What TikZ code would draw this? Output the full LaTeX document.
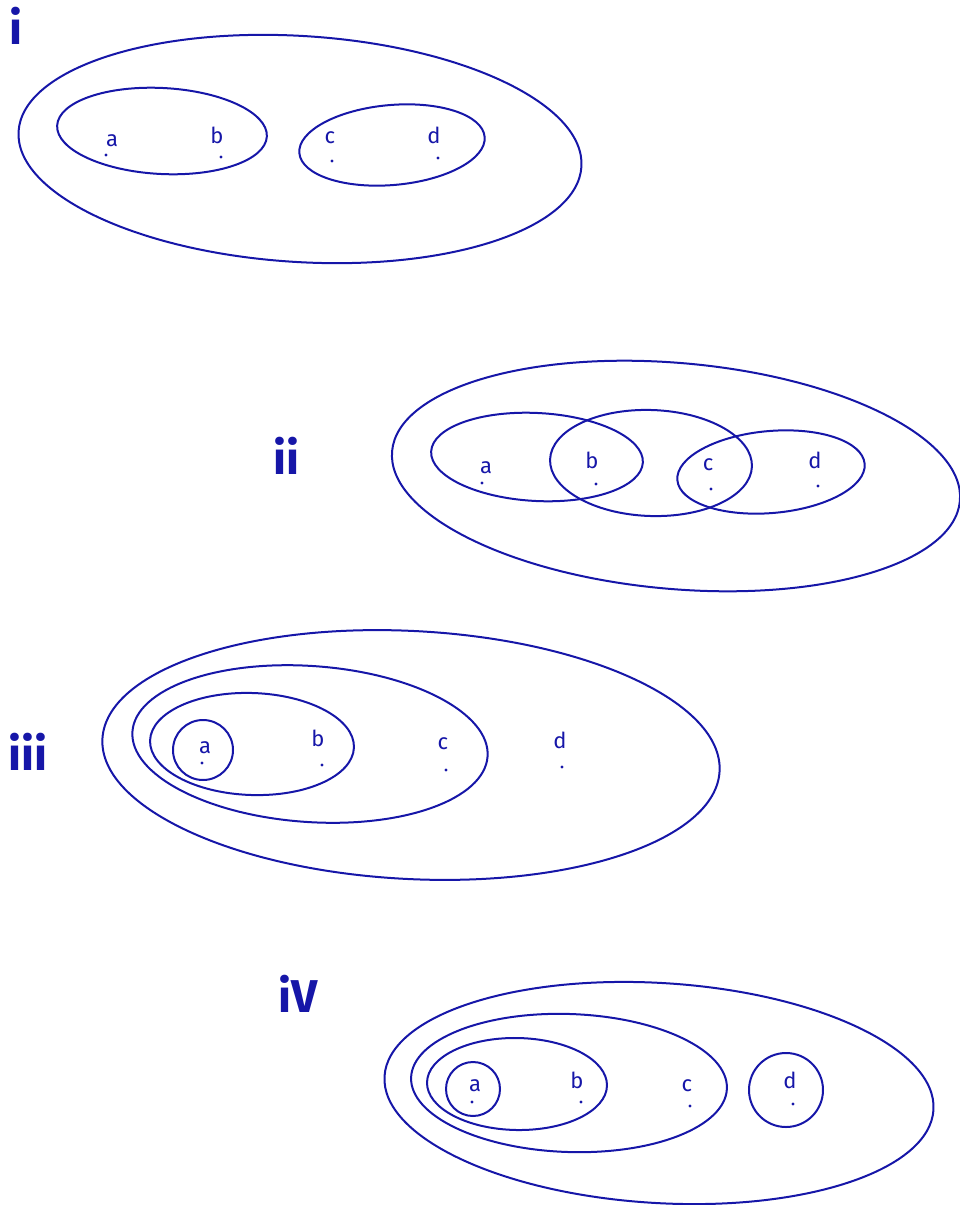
\documentclass[tikz,border=0pt]{standalone}
\usepackage{fontspec}
\setsansfont{Fira Sans}
\begin{document}
\begin{tikzpicture}[x=1pt,y=-1pt,
  ink/.style={draw=penblue,line width=2pt},
  lbl/.style={text=penblue,font=\sffamily\fontsize{22}{22}\selectfont,inner sep=0pt},
  num/.style={text=penblue,font=\sffamily\bfseries\fontsize{46}{46}\selectfont,inner sep=0pt},
  pt/.style={circle,fill=penblue,inner sep=0pt,minimum size=3.4pt}]
\definecolor{penblue}{RGB}{22,22,168}
\useasboundingbox (0,0) rectangle (959,1205);

% ---- i
\node[num] (ni) at (16,26) {i};
\draw[ink,rotate around={-3.6:(300,149)}] (300,149) ellipse [x radius=282pt, y radius=113pt];
\draw[ink,rotate around={-3:(162,131)}] (162,131) ellipse [x radius=105pt, y radius=43pt];
\draw[ink,rotate around={5:(392,145)}] (392,145) ellipse [x radius=93pt, y radius=40pt];
\node[lbl] (ia) at (112,141) {a}; \node[pt] (iad) at (106,155) {};
\node[lbl] (ib) at (217,135) {b}; \node[pt] (ibd) at (221,157) {};
\node[lbl] (ic) at (330,138) {c}; \node[pt] (icd) at (332,161) {};
\node[lbl] (id) at (434,135) {d}; \node[pt] (idd) at (438,158) {};

% ---- ii
\node[num] (nii) at (286,456) {ii};
\draw[ink,rotate around={-5:(676,476)}] (676,476) ellipse [x radius=285pt, y radius=113pt];
\draw[ink,rotate around={-3:(537,457)}] (537,457) ellipse [x radius=106pt, y radius=44pt];
\draw[ink,rotate around={-2:(651,463)}] (651,463) ellipse [x radius=101pt, y radius=53pt];
\draw[ink,rotate around={5:(771,472)}] (771,472) ellipse [x radius=94pt, y radius=41pt];
\node[lbl] (iia) at (486,468) {a}; \node[pt] (iiad) at (482,483) {};
\node[lbl] (iib) at (592,460) {b}; \node[pt] (iibd) at (596,484) {};
\node[lbl] (iic) at (708,465) {c}; \node[pt] (iicd) at (711,489) {};
\node[lbl] (iid) at (815,460) {d}; \node[pt] (iidd) at (818,486) {};

% ---- iii
\node[num] (niii) at (28,752) {iii};
\draw[ink,rotate around={-3:(411,755)}] (411,755) ellipse [x radius=309pt, y radius=124pt];
\draw[ink,rotate around={-4:(310,744)}] (310,744) ellipse [x radius=178pt, y radius=78pt];
\draw[ink,rotate around={-2:(252,744)}] (252,744) ellipse [x radius=102pt, y radius=51pt];
\draw[ink] (203,750) circle [radius=30pt];
\node[lbl] (iiia) at (205,748) {a}; \node[pt] (iiiad) at (202,763) {};
\node[lbl] (iiib) at (318,738) {b}; \node[pt] (iiibd) at (322,765) {};
\node[lbl] (iiic) at (443,744) {c}; \node[pt] (iiicd) at (446,770) {};
\node[lbl] (iiid) at (560,740) {d}; \node[pt] (iiidd) at (562,767) {};

% ---- iv
\node[num] (niv) at (298,994) {iV};
\draw[ink,rotate around={-3.5:(659,1093)}] (659,1093) ellipse [x radius=275pt, y radius=110pt];
\draw[ink,rotate around={-2:(569,1083)}] (569,1083) ellipse [x radius=158pt, y radius=69pt];
\draw[ink,rotate around={-1:(517,1084)}] (517,1084) ellipse [x radius=90pt, y radius=46pt];
\draw[ink] (473,1089) circle [radius=27pt];
\draw[ink] (786,1090) circle [radius=37pt];
\node[lbl] (iva) at (475,1086) {a}; \node[pt] (ivad) at (472,1102) {};
\node[lbl] (ivb) at (577,1080) {b}; \node[pt] (ivbd) at (581,1102) {};
\node[lbl] (ivc) at (687,1086) {c}; \node[pt] (ivcd) at (690,1106) {};
\node[lbl] (ivd) at (790,1080) {d}; \node[pt] (ivdd) at (793,1104) {};
\end{tikzpicture}
\end{document}
